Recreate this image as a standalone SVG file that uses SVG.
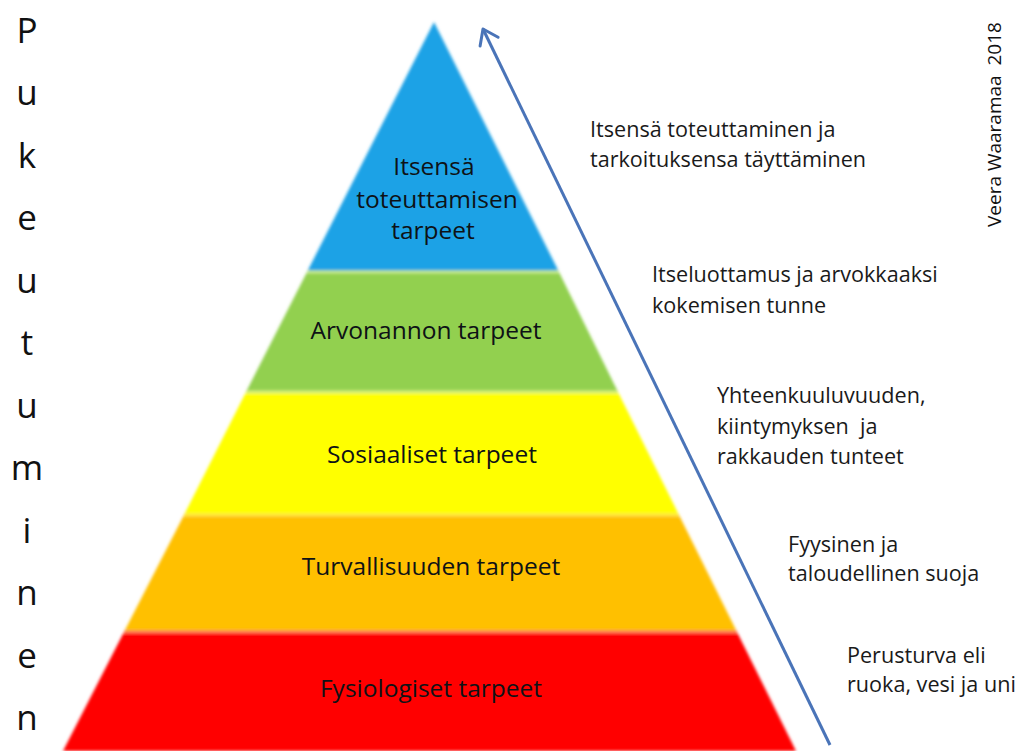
<svg xmlns="http://www.w3.org/2000/svg" width="1024" height="751" viewBox="0 0 1024 751">
<defs>
<style>
.lbl{font-family:"Open Sans","Liberation Sans",sans-serif;font-size:24.5px;fill:#0e1216;text-anchor:middle}
.side{font-family:"Open Sans","Liberation Sans",sans-serif;font-size:21.6px;fill:#1a1a1a}
.vert{font-family:"Open Sans","Liberation Sans",sans-serif;font-size:35px;fill:#111;text-anchor:middle}
.sep{stroke-width:3;fill:none}
</style>
<filter id="soft" x="-5%" y="-5%" width="110%" height="110%"><feGaussianBlur stdDeviation="1.6"/></filter>
<marker id="head" markerWidth="30" markerHeight="30" refX="18" refY="15" orient="auto" markerUnits="userSpaceOnUse">
<path d="M4,5 L18,15 L4,25" fill="none" stroke="#4a74b8" stroke-width="3" stroke-linecap="round" stroke-linejoin="round"/>
</marker>
</defs>
<rect width="1024" height="751" fill="#ffffff"/>

<g id="pyramid" filter="url(#soft)">
<polygon id="band-blue" points="434,22 559,272 307,272" fill="#1fa2e6"/>
<polygon id="band-green" points="307,272 559,272 618,392 246,392" fill="#92d050"/>
<polygon id="band-yellow" points="246,392 618,392 679,515 184,515" fill="#ffff00"/>
<polygon id="band-orange" points="184,515 679,515 737,632 124,632" fill="#ffc000"/>
<polygon id="band-red" points="124,632 737,632 796,751 63,751" fill="#ff0000"/>
<line class="sep" x1="307" y1="272" x2="559" y2="272" stroke="#c9ec8c"/>
<line class="sep" x1="246" y1="392" x2="618" y2="392" stroke="#d6f07a"/>
<line class="sep" x1="184" y1="515" x2="679" y2="515" stroke="#ffe640"/>
<line class="sep" x1="124" y1="632" x2="737" y2="632" stroke="#ff7a5a"/>
</g>

<g id="node-itsensa">
<text class="lbl" x="434" y="175">Itsensä</text>
<text class="lbl" x="437" y="208">toteuttamisen</text>
<text class="lbl" x="433" y="239">tarpeet</text>
</g>
<g id="node-arvonannon"><text class="lbl" x="426" y="339">Arvonannon tarpeet</text></g>
<g id="node-sosiaaliset"><text class="lbl" x="432" y="463">Sosiaaliset tarpeet</text></g>
<g id="node-turvallisuuden"><text class="lbl" x="431" y="575">Turvallisuuden tarpeet</text></g>
<g id="node-fysiologiset"><text class="lbl" x="431" y="697">Fysiologiset tarpeet</text></g>

<g id="connectors">
<line x1="830" y1="745" x2="483" y2="29" stroke="#4a74b8" stroke-width="3" marker-end="url(#head)"/>
</g>

<g id="side-texts">
<text class="side" x="590" y="137">Itsensä toteuttaminen ja</text>
<text class="side" x="590" y="167">tarkoituksensa täyttäminen</text>
<text class="side" x="652" y="282">Itseluottamus ja arvokkaaksi</text>
<text class="side" x="652" y="313">kokemisen tunne</text>
<text class="side" x="717" y="403">Yhteenkuuluvuuden,</text>
<text class="side" x="717" y="434" xml:space="preserve">kiintymyksen  ja</text>
<text class="side" x="717" y="464">rakkauden tunteet</text>
<text class="side" x="788" y="552">Fyysinen ja</text>
<text class="side" x="788" y="581">taloudellinen suoja</text>
<text class="side" x="847" y="663">Perusturva eli</text>
<text class="side" x="847" y="692">ruoka, vesi ja uni</text>
</g>

<g id="author">
<text transform="translate(1001,227) rotate(-90)" font-family="'Open Sans','Liberation Sans',sans-serif" font-size="19" fill="#111" xml:space="preserve">Veera Waaramaa  2018</text>
</g>

<g id="vertical-word">
<text class="vert" x="27" y="43">P</text>
<text class="vert" x="27" y="105">u</text>
<text class="vert" x="27" y="168">k</text>
<text class="vert" x="27" y="230">e</text>
<text class="vert" x="27" y="293">u</text>
<text class="vert" x="27" y="355">t</text>
<text class="vert" x="27" y="418">u</text>
<text class="vert" x="27" y="480">m</text>
<text class="vert" x="27" y="543">i</text>
<text class="vert" x="27" y="605">n</text>
<text class="vert" x="27" y="668">e</text>
<text class="vert" x="27" y="730">n</text>
</g>
</svg>
